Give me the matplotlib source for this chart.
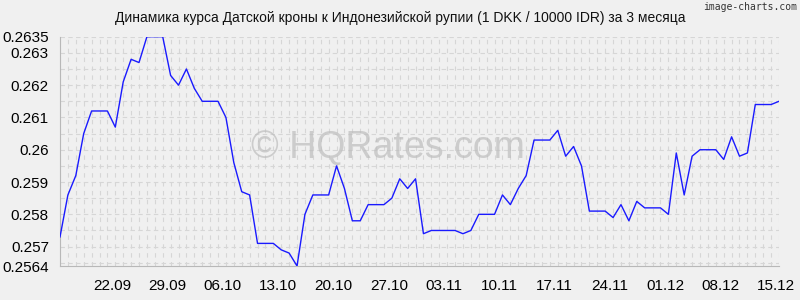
import numpy as np
import matplotlib as mpl
mpl.use('Agg')
import matplotlib.pyplot as plt
import matplotlib.transforms as mtrans
from matplotlib import font_manager

# daily DKK/IDR (1 DKK / 10000 IDR), 15.09 .. 15.12
rates = [0.2573, 0.2586, 0.2592, 0.2605, 0.2612, 0.2612, 0.2612, 0.2607,
         0.2621, 0.2628, 0.2627, 0.2635, 0.2635, 0.2635, 0.2623, 0.2620,
         0.2625, 0.2619, 0.2615, 0.2615, 0.2615, 0.2610, 0.2596, 0.2587,
         0.2586, 0.2571, 0.2571, 0.2571, 0.2569, 0.2568, 0.2564, 0.2580,
         0.2586, 0.2586, 0.2586, 0.2595, 0.2588, 0.2578, 0.2578, 0.2583,
         0.2583, 0.2583, 0.2585, 0.2591, 0.2588, 0.2591, 0.2574, 0.2575,
         0.2575, 0.2575, 0.2575, 0.2574, 0.2575, 0.2580, 0.2580, 0.2580,
         0.2586, 0.2583, 0.2588, 0.2592, 0.2603, 0.2603, 0.2603, 0.2606,
         0.2598, 0.2601, 0.2595, 0.2581, 0.2581, 0.2581, 0.2579, 0.2583,
         0.2578, 0.2584, 0.2582, 0.2582, 0.2582, 0.2580, 0.2599, 0.2586,
         0.2598, 0.2600, 0.2600, 0.2600, 0.2597, 0.2604, 0.2598, 0.2599,
         0.2614, 0.2614, 0.2614, 0.2615]
x_labels = ['22.09', '29.09', '06.10', '13.10', '20.10', '27.10', '03.11',
            '10.11', '17.11', '24.11', '01.12', '08.12', '15.12']
x_label_pos = [7, 14, 21, 28, 35, 42, 49, 56, 63, 70, 77, 84, 91]
y_ticks = [0.2564, 0.257, 0.258, 0.259, 0.260, 0.261, 0.262, 0.263, 0.2635]
y_tick_labels = ['0.2564', '0.257', '0.258', '0.259', '0.26', '0.261',
                 '0.262', '0.263', '0.2635']
title = 'Динамика курса Датской кроны к Индонезийской рупии (1 DKK / 10000 IDR) за 3 месяца'

names = set(f.name for f in font_manager.fontManager.ttflist)
narrow = 'Liberation Sans Narrow' if 'Liberation Sans Narrow' in names \
    else 'Liberation Sans'

bg = '#f0f0f0'
gridc = '#d6d6d6'
fig = plt.figure(figsize=(8, 3), dpi=100, facecolor=bg)
ax = fig.add_axes([60 / 800, 1 - 266 / 300, 719 / 800, (266 - 36.7) / 300])
ax.set_facecolor(bg)

n = len(rates)
xs = np.arange(n)
ax.set_xlim(0, n - 1)
ax.set_ylim(0.2564, 0.2635)

# grid: every day, every 0.0005
for xv in xs:
    ax.axvline(xv, color=gridc, lw=0.8, ls=(0, (4, 4)), zorder=0)
for yv in np.arange(0.2565, 0.26351, 0.0005):
    ax.axhline(yv, color=gridc, lw=0.8, ls=(0, (4, 3)), zorder=0)

ax.plot(xs, rates, color='#1a1aff', lw=1.0, zorder=3)

ax.set_xticks(x_label_pos)
ax.set_xticklabels(x_labels, fontsize=11, family=narrow)
ax.set_yticks(y_ticks)
ax.set_yticklabels(y_tick_labels, fontsize=11, family=narrow)
ax.tick_params(length=0, pad=9)
ax.tick_params(axis='y', pad=8)
shift = mtrans.ScaledTranslation(-3 / 100, 0, fig.dpi_scale_trans)
for lbl in ax.get_xticklabels():
    lbl.set_transform(lbl.get_transform() + shift)
for s in ['top', 'right']:
    ax.spines[s].set_visible(False)
for s in ['left', 'bottom']:
    ax.spines[s].set_color('#b8b8b8')
    ax.spines[s].set_linewidth(0.8)

fig.text(0.5, 1 - 18 / 300, title, ha='center', va='center', fontsize=10,
         family='Liberation Sans', color='#111111')
fig.text(0.996, 1 - 7 / 300, 'image-charts.com', ha='right', va='center',
         fontsize=7, family='DejaVu Sans Mono', color='#333333')
fig.text(388 / 800, 1 - 148 / 300, '© HQRates.com', ha='center',
         va='center', fontsize=27, family=narrow, color='#bdbdbd',
         alpha=0.7, zorder=1)

plt.savefig('out.png', dpi=100, facecolor=bg)
